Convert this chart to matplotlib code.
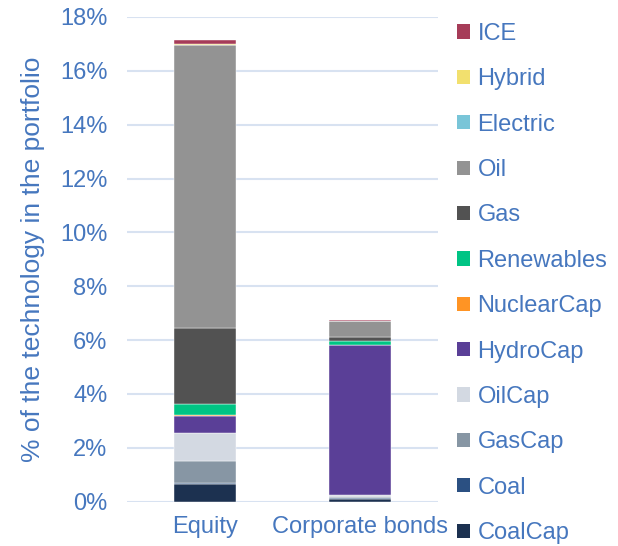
import matplotlib.pyplot as plt
from matplotlib.patches import Patch

plt.rcParams['font.family'] = ['Liberation Sans', 'DejaVu Sans']

# Portfolios (x axis)
portfolios = ['Equity', 'Corporate bonds']

# Technologies, stacked from bottom to top
technologies = ['CoalCap', 'Coal', 'GasCap', 'OilCap', 'HydroCap', 'NuclearCap',
                'Renewables', 'Gas', 'Oil', 'Electric', 'Hybrid', 'ICE']

# Share of each technology in the portfolio (%), Equity / Corporate bonds
coalcap = [0.66, 0.10]
coal = [0.02, 0.04]
gascap = [0.82, 0.02]
oilcap = [1.07, 0.10]
hydrocap = [0.60, 5.55]
nuclearcap = [0.05, 0.00]
renewables = [0.41, 0.14]
gas = [2.82, 0.16]
oil = [10.50, 0.60]
electric = [0.00, 0.00]
hybrid = [0.03, 0.01]
ice = [0.17, 0.03]

values = [coalcap, coal, gascap, oilcap, hydrocap, nuclearcap,
          renewables, gas, oil, electric, hybrid, ice]

colors = ['#1C3150', '#2B5082', '#8796A4', '#D3D9E2', '#5A3F97', '#FF9424',
          '#00C484', '#525252', '#939393', '#79C5D8', '#F2E06E', '#A63C58']

text_color = '#4677BE'
grid_color = '#D8E2F1'

fig = plt.figure(figsize=(6.18, 5.46), dpi=100)
ax = fig.add_axes([0.2055, 0.0811, 0.503, 0.8878])

x = range(len(portfolios))
bottom = [0.0, 0.0]
for vals, col in zip(values, colors):
    ax.bar(x, vals, width=0.4, bottom=bottom, color=col,
           edgecolor='white', linewidth=0.3, zorder=3)
    bottom = [b + v for b, v in zip(bottom, vals)]

ax.set_xlim(-0.5, 1.5)
ax.set_ylim(0, 18)
ax.set_yticks(range(0, 19, 2))
ax.set_yticklabels([f'{t}%' for t in range(0, 19, 2)])
ax.set_xticks(list(x))
ax.set_xticklabels(portfolios)

ax.grid(axis='y', color=grid_color, linewidth=1.5, zorder=0)
for s in ax.spines.values():
    s.set_visible(False)
ax.tick_params(length=0, labelsize=17, colors=text_color)
ax.tick_params(axis='y', pad=14)
ax.tick_params(axis='x', pad=10)

ax.set_ylabel('% of the technology in the portfolio', fontsize=19,
              color=text_color, labelpad=11)

# Legend, top entry is the top of the stack
handles = [Patch(facecolor=c, edgecolor='none') for c in colors][::-1]
labels = technologies[::-1]
fig.legend(handles, labels, loc='upper left', bbox_to_anchor=(0.740, 0.958),
           frameon=False, fontsize=17, labelcolor=text_color,
           handlelength=0.55, handleheight=0.55, handletextpad=0.3,
           labelspacing=0.99, borderpad=0, borderaxespad=0)

fig.savefig('out.png', dpi=100)
